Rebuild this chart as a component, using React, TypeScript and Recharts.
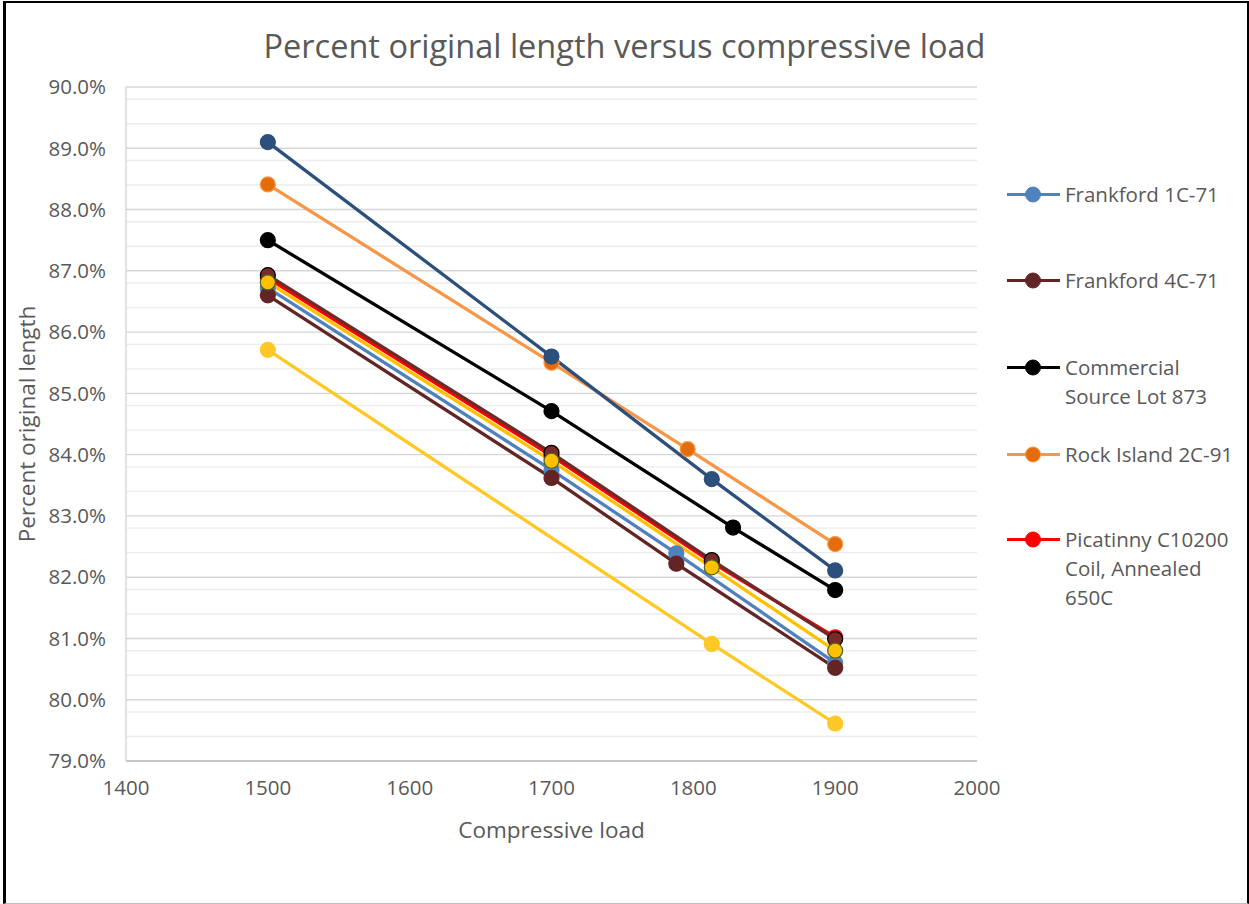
import React from 'react';
import { LineChart, Line, XAxis, YAxis, CartesianGrid, Legend } from 'recharts';

// ---- data ----
const xTicks = [1400, 1500, 1600, 1700, 1800, 1900, 2000];
const yTicks = [79, 80, 81, 82, 83, 84, 85, 86, 87, 88, 89, 90];

const loadsFrankford = [1500, 1700, 1788, 1900];
const loadsPicatinny = [1500, 1700, 1813, 1900];
const loadsRockIsland = [1500, 1700, 1796, 1900];
const loadsCommercial = [1500, 1700, 1828, 1900];
const loadsYellowLow = [1500, 1813, 1900];

const frankford1C = [86.72, 83.75, 82.39, 80.6];
const frankford4C = [86.6, 83.62, 82.22, 80.52];
const commercial = [87.5, 84.71, 82.81, 81.79];
const rockIsland = [88.41, 85.5, 84.09, 82.54];
const picatinny = [86.88, 83.98, 82.24, 81.02];
const seriesNavy = [89.1, 85.6, 83.6, 82.11];
const seriesMaroonB = [86.93, 84.03, 82.28, 80.99];
const seriesYellowGreen = [86.81, 83.9, 82.16, 80.8];
const seriesYellowLow = [85.71, 80.91, 79.61];

type S = {
  name: string;
  xs: number[];
  ys: number[];
  line: string;
  fill: string;
  stroke: string;
  legend: boolean;
};

const series: S[] = [
  { name: 'Frankford 1C-71', xs: loadsFrankford, ys: frankford1C, line: '#4F81BD', fill: '#4F81BD', stroke: '#4F81BD', legend: true },
  { name: 'Frankford 4C-71', xs: loadsFrankford, ys: frankford4C, line: '#632523', fill: '#632523', stroke: '#632523', legend: true },
  { name: 'Commercial Source Lot 873', xs: loadsCommercial, ys: commercial, line: '#000000', fill: '#000000', stroke: '#000000', legend: true },
  { name: 'Rock Island 2C-91', xs: loadsRockIsland, ys: rockIsland, line: '#F79646', fill: '#E46C0A', stroke: '#F79646', legend: true },
  { name: 'Picatinny C10200 Coil, Annealed 650C', xs: loadsPicatinny, ys: picatinny, line: '#FF0000', fill: '#FF0000', stroke: '#FF0000', legend: true },
  { name: 'Series 6', xs: loadsPicatinny, ys: seriesNavy, line: '#2C4F7C', fill: '#2C4F7C', stroke: '#2C4F7C', legend: false },
  { name: 'Series 7', xs: loadsPicatinny, ys: seriesMaroonB, line: '#6E2A28', fill: '#772C2A', stroke: '#000000', legend: false },
  { name: 'Series 8', xs: loadsPicatinny, ys: seriesYellowGreen, line: '#FFC000', fill: '#FFC000', stroke: '#4F6228', legend: false },
  { name: 'Series 9', xs: loadsYellowLow, ys: seriesYellowLow, line: '#FFC823', fill: '#FFC826', stroke: '#FFC826', legend: false },
];

const minorTicks: number[] = [];
for (let i = 0; i <= 55; i++) {
  const v = Math.round((79 + i * 0.2) * 10) / 10;
  if (Math.abs(v - Math.round(v)) > 0.01) minorTicks.push(v);
}

const FONT = '"Open Sans", sans-serif';
const GREY = '#595959';

const legendTops = [0, 86, 173, 260, 345];

const LegendContent = () => {
  const items = series.filter((s) => s.legend);
  return (
    <div style={{ position: 'relative', width: 244, height: 440, fontFamily: FONT, fontSize: 20.5, color: GREY }}>
      {items.map((s, i) => (
        <div key={s.name} style={{ position: 'absolute', left: 0, top: legendTops[i], display: 'flex', alignItems: 'flex-start' }}>
          <svg width={56} height={29} style={{ flex: '0 0 auto' }}>
            <line x1={2} y1={14.5} x2={55} y2={14.5} stroke={s.line} strokeWidth={3.2} />
            <circle cx={28} cy={14.5} r={7.5} fill={s.fill} stroke={s.stroke} strokeWidth={1} />
          </svg>
          <div style={{ width: 178, lineHeight: '29px', marginLeft: 4 }}>{s.name}</div>
        </div>
      ))}
    </div>
  );
};

export default function App() {
  return (
    <div style={{ position: 'absolute', left: 0, top: 0, width: 1249, height: 904, background: '#fff', overflow: 'hidden' }}>
      <div
        style={{
          position: 'absolute',
          left: 3,
          top: 1,
          width: 1246,
          height: 903,
          boxSizing: 'border-box',
          borderTop: '2px solid #000',
          borderLeft: '3px solid #000',
          borderRight: '2px solid #000',
          borderBottom: '1px solid #bfbfbf',
          pointerEvents: 'none',
          zIndex: 2,
        }}
      />
      <div
        style={{
          position: 'absolute',
          left: 0,
          width: 1249,
          top: 24,
          textAlign: 'center',
          fontFamily: FONT,
          fontSize: 32.5,
          lineHeight: '44px',
          color: GREY,
        }}
      >
        Percent original length versus compressive load
      </div>
      <div style={{ position: 'absolute', left: 0, top: 0 }}>
        <LineChart width={1249} height={904} margin={{ top: 87, right: 28, bottom: 43, left: 0 }}>
          <CartesianGrid horizontalValues={minorTicks} vertical={false} stroke="#ececec" strokeWidth={1.4} />
          <CartesianGrid horizontalValues={yTicks} vertical={false} stroke="#d6d6d6" strokeWidth={1.4} />
          <XAxis
            dataKey="x"
            type="number"
            domain={[1400, 2000]}
            ticks={xTicks}
            allowDataOverflow
            height={100}
            axisLine={{ stroke: '#bfbfbf', strokeWidth: 1.5 }}
            tickLine={false}
            tickMargin={13}
            tick={{ fill: GREY, fontSize: 20.5, fontFamily: FONT }}
            label={{ value: 'Compressive load', position: 'center', dy: 19, fill: GREY, fontSize: 22.5, fontFamily: FONT }}
          />
          <YAxis
            dataKey="y"
            type="number"
            domain={[79, 90]}
            ticks={yTicks}
            allowDataOverflow
            width={126}
            axisLine={{ stroke: '#d6d6d6', strokeWidth: 1.4 }}
            tickLine={false}
            tickMargin={14}
            tickFormatter={(v: number) => `${v.toFixed(1)}%`}
            tick={{ fill: GREY, fontSize: 20.5, fontFamily: FONT }}
            label={{ value: 'Percent original length', angle: -90, position: 'center', dx: -36, fill: GREY, fontSize: 22.5, fontFamily: FONT }}
          />
          <Legend
            layout="vertical"
            align="right"
            verticalAlign="middle"
            width={244}
            content={() => <LegendContent />}
            wrapperStyle={{ left: 1005, top: 180, width: 244, height: 440 }}
          />
          {series.map((s) => (
            <Line
              key={s.name}
              name={s.name}
              data={s.xs.map((x, i) => ({ x, y: s.ys[i] }))}
              dataKey="y"
              type="linear"
              stroke={s.line}
              strokeWidth={3.3}
              dot={{ r: 7.5, fill: s.fill, stroke: s.stroke, strokeWidth: 1.2 }}
              activeDot={false}
              legendType={s.legend ? 'line' : 'none'}
              isAnimationActive={false}
            />
          ))}
        </LineChart>
      </div>
    </div>
  );
}
